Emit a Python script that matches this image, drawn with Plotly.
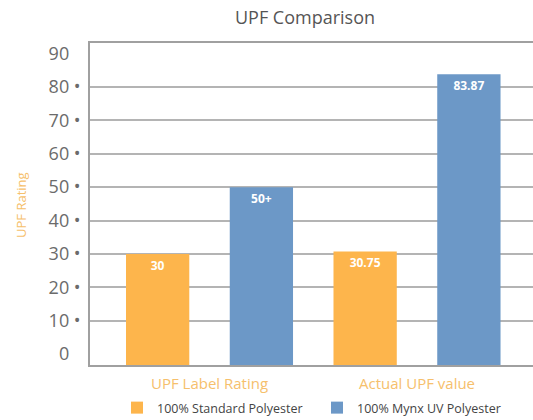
import plotly.graph_objects as go

categories = ["UPF Label Rating", "Actual UPF value"]
series_names = ["100% Standard Polyester", "100% Mynx UV Polyester"]
standard_values = [30, 30.75]
mynx_values = [50, 83.87]
standard_labels = ["30", "30.75"]
mynx_labels = ["50+", "83.87"]
tick_values = [0, 10, 20, 30, 40, 50, 60, 70, 80, 90]
grid_values = [10, 20, 30, 40, 50, 60, 70, 80]

Y_MIN, Y_MAX = -3.3, 93.2
ORANGE = "#FDB54C"
BLUE = "#6C98C7"
GRAY = "#6b6b6b"
FONT = "Open Sans"
L, R, T, B, W, H = 90, 0, 43, 55, 533, 420
PW, PH = W - L - R, H - T - B

def tick_label(v):
    if v in grid_values:
        return f"{v} •"
    return f"{v} <span style='color:rgba(0,0,0,0)'>•</span>"

fig = go.Figure()
for name, vals, labels, color, leg in [
    (series_names[0], standard_values, standard_labels, ORANGE, "legend"),
    (series_names[1], mynx_values, mynx_labels, BLUE, "legend2"),
]:
    fig.add_trace(go.Bar(
        name=name,
        x=categories,
        y=[v - Y_MIN for v in vals],
        base=Y_MIN,
        marker=dict(color=color, line=dict(width=0)),
        text=labels,
        textposition="inside",
        insidetextanchor="end",
        textfont=dict(color="white", size=12, family=FONT, weight="bold"),
        hoverinfo="skip",
        legend=leg,
    ))

# gridlines only at 10..80 via overlay axis
fig.add_trace(go.Scatter(x=[categories[0]], y=[None], yaxis="y2", showlegend=False, hoverinfo="skip"))

leg_common = dict(
    orientation="h", xanchor="left", y=-(408 - (T + PH)) / PH, yanchor="middle",
    font=dict(size=12.5, color="#444444", family=FONT),
    itemclick=False, itemdoubleclick=False,
)

fig.update_layout(
    width=W, height=H,
    margin=dict(l=L, r=R, t=T, b=B, autoexpand=False),
    paper_bgcolor="white", plot_bgcolor="white",
    font=dict(family=FONT, color=GRAY),
    title=dict(text="UPF Comparison", x=305 / W, xanchor="center", y=1 - 18 / H, yanchor="middle",
               font=dict(size=18, color="#555555", family=FONT)),
    barmode="group", bargap=0.0, bargroupgap=0.39,
    xaxis=dict(
        type="category", range=[-0.576, 1.559], automargin=False,
        showgrid=False, zeroline=False,
        showline=True, linecolor="#a0a0a0", linewidth=1.5, mirror=True,
        tickfont=dict(size=15, color="#F6C06C", family=FONT),
        ticks="", ticklabelstandoff=4,
    ),
    yaxis=dict(
        range=[Y_MIN, Y_MAX], automargin=False,
        tickvals=tick_values,
        ticktext=[tick_label(v) for v in tick_values],
        showgrid=False, zeroline=False,
        showline=True, linecolor="#a0a0a0", linewidth=1.5,
        tickfont=dict(size=18, color=GRAY, family=FONT),
        ticks="", ticklabelstandoff=4,
    ),
    yaxis2=dict(
        overlaying="y", range=[Y_MIN, Y_MAX], tickvals=grid_values, automargin=False,
        showgrid=True, gridcolor="#b4b4b4", gridwidth=1.5,
        showticklabels=False, zeroline=False, showline=False, side="left",
        layer="below traces",
    ),
    legend=dict(x=(117 - L) / PW, **leg_common),
    legend2=dict(x=(317 - L) / PW, **leg_common),
    annotations=[dict(
        text="UPF Rating", x=(21 - L) / PW, xref="paper", y=(T + PH - 205) / PH, yref="paper",
        textangle=-90, showarrow=False, xanchor="center", yanchor="middle",
        font=dict(size=13, color="#F6C06C", family=FONT),
    )],
    showlegend=True,
)
fig.write_html(
    "out.html",
    config={"displayModeBar": False},
    post_script="document.body.style.margin='0';document.body.style.overflow='hidden';",
)
